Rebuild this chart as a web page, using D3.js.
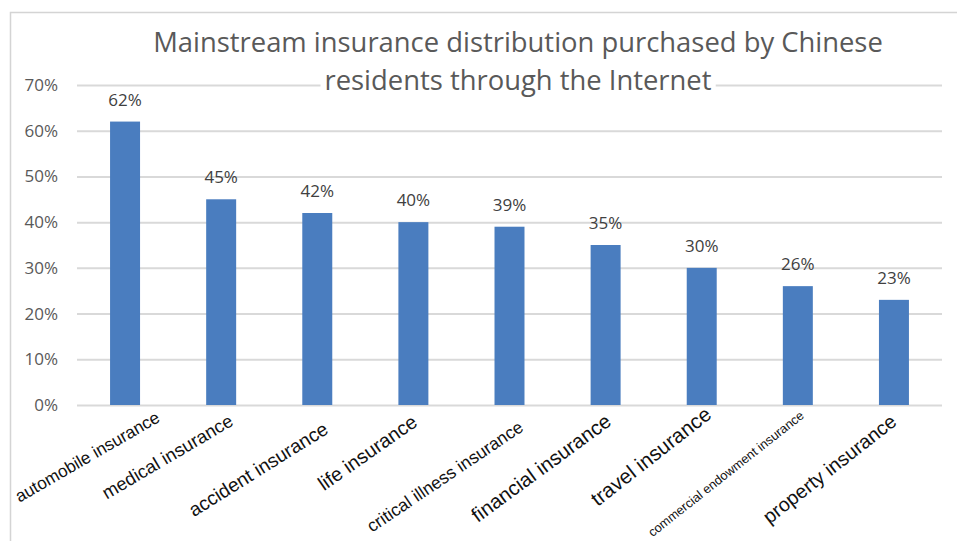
<!DOCTYPE html>
<html>
<head>
<meta charset="utf-8">
<script src="https://cdn.jsdelivr.net/npm/d3@7"></script>
<style>
  html, body { margin: 0; padding: 0; background: #fff; }
  svg { display: block; }
</style>
</head>
<body>
<svg id="chart" width="957" height="541"></svg>
<script>
// ---- data ----
const categories = [
  "automobile insurance", "medical insurance", "accident insurance", "life insurance",
  "critical illness insurance", "financial insurance", "travel insurance",
  "commercial endowment insurance", "property insurance"
];
const values = [62, 45, 42, 40, 39, 35, 30, 26, 23];
const yTicks = [0, 10, 20, 30, 40, 50, 60, 70];
const titleLines = [
  "Mainstream insurance distribution purchased by Chinese",
  "residents through the Internet"
];

// ---- label styling (layout only) ----
const labelSize  = [17.2, 18.4, 19.2, 19.6, 17.5, 20.2, 20.7, 12.8, 19.7];
const labelAngle = [30, 30.5, 32, 35, 34, 36.3, 38, 38.3, 38];
const labelDx    = [36, 13.4, 12.3, 5.2, 15, 7, 11, 7, 4];
const labelDy    = [16, 19.5, 27.5, 20, 25, 19, 12, 12, 19];

const svg = d3.select("#chart");
const plotLeft = 77, plotRight = 942, plotTop = 85, plotBottom = 405;

// frame
svg.append("path")
  .attr("d", "M10.5,541 V12.5 H957")
  .attr("fill", "none").attr("stroke", "#d4d4d4").attr("stroke-width", 1.5);

const x = d3.scaleBand().domain(categories).range([plotLeft, plotRight])
  .paddingInner(0.688).paddingOuter(0.344);
const y = d3.scaleLinear().domain([0, 70]).range([plotBottom, plotTop]);

// gridlines + y labels
const yAxis = d3.axisLeft(y).tickValues(yTicks).tickSize(-(plotRight - plotLeft))
  .tickPadding(19).tickFormat(d => d + "%");
const gy = svg.append("g").attr("transform", `translate(${plotLeft},0)`).call(yAxis);
gy.select(".domain").remove();
gy.selectAll(".tick line").attr("stroke", "#d9d9d9").attr("stroke-width", 2);
gy.selectAll(".tick text")
  .attr("fill", "#595959").style("font-family", "'Open Sans', sans-serif")
  .style("font-size", "17px");

// bars
svg.append("g").selectAll("rect").data(values).join("rect")
  .attr("x", (d, i) => x(categories[i]))
  .attr("y", d => y(d))
  .attr("width", x.bandwidth())
  .attr("height", d => y(0) - y(d))
  .attr("fill", "#4a7dbf");

// data labels
svg.append("g").selectAll("text").data(values).join("text")
  .attr("x", (d, i) => x(categories[i]) + x.bandwidth() / 2)
  .attr("y", d => y(d) - 16)
  .attr("text-anchor", "middle")
  .attr("fill", "#404040")
  .style("font-family", "'Open Sans', sans-serif")
  .style("font-size", "17px")
  .text(d => d + "%");

// category labels
svg.append("g").selectAll("text").data(categories).join("text")
  .attr("transform", (d, i) =>
    `translate(${x(d) + x.bandwidth() / 2 + labelDx[i]},${plotBottom + labelDy[i]}) rotate(${-labelAngle[i]})`)
  .attr("text-anchor", "end")
  .attr("fill", "#111")
  .style("font-family", "'Liberation Sans', Arial, sans-serif")
  .style("font-size", (d, i) => labelSize[i] + "px")
  .text(d => d);

// title with white background per line
const titleG = svg.append("g");
const titleY = [52, 90];
titleLines.forEach((t, i) => {
  const bg = titleG.append("rect").attr("fill", "#fff");
  const tx = titleG.append("text")
    .attr("x", 518).attr("y", titleY[i])
    .attr("text-anchor", "middle")
    .attr("fill", "#595959")
    .style("font-family", "'Open Sans', sans-serif")
    .style("font-size", "27.4px")
    .text(t);
  const bb = tx.node().getBBox();
  bg.attr("x", bb.x - 4).attr("y", bb.y).attr("width", bb.width + 8).attr("height", bb.height);
});
</script>
</body>
</html>
